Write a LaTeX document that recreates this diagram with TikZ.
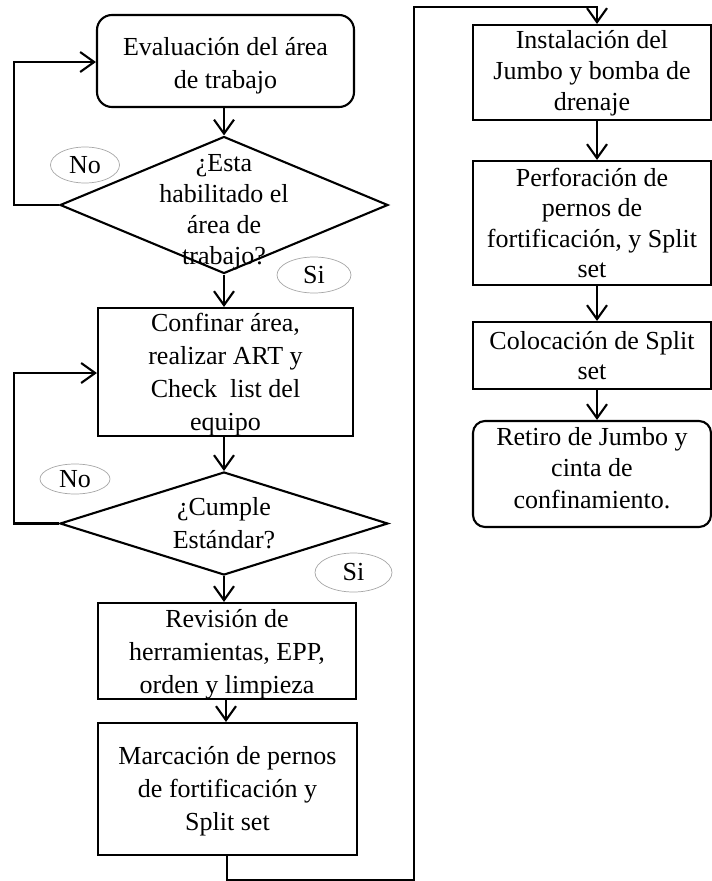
\documentclass[tikz,border=0pt]{standalone}
\usepackage{fontspec}
\setmainfont{Liberation Serif}
\usetikzlibrary{arrows.meta,shapes.geometric}
\begin{document}
\begin{tikzpicture}[x=1pt,y=-1pt,
  line width=2.1pt,
  box/.style={draw,rectangle,inner sep=0pt},
  rbox/.style={box,rounded corners=15pt},
  dia/.style={draw,diamond,inner sep=0pt},
  txt/.style={align=center,inner sep=0pt,font=\fontsize{26}{33}\selectfont},
  oval/.style={draw=gray!70,line width=0.7pt,ellipse,inner sep=0pt,font=\fontsize{26}{30}\selectfont},
  arr/.style={-{Straight Barb[length=14pt,width=20pt,line width=2.1pt]}}
]
\useasboundingbox (0,0) rectangle (712,881);
% left column
\node[rbox,minimum width=257pt,minimum height=92pt] (b1) at (225.5,61) {};
\node[txt,yshift=-5pt] (t1) at (b1) {Evaluación del área\\de trabajo};
\node[dia,minimum width=328pt,minimum height=137pt] (d1) at (224,205) {};
\node[txt,font=\fontsize{26}{31}\selectfont] (td1) at (224,212) {¿Esta\\habilitado el\\área de\\trabajo?};
\node[box,minimum width=255pt,minimum height=128pt] (b2) at (225.5,372) {};
\node[txt,yshift=-3pt] (t2) at (b2) {Confinar área,\\realizar ART y\\Check\ \ list del\\equipo};
\node[dia,minimum width=328pt,minimum height=103pt] (d2) at (224,523.5) {};
\node[txt] (td2) at (d2) {¿Cumple\\Estándar?};
\node[box,minimum width=258pt,minimum height=96pt] (b3) at (227,651) {};
\node[txt,yshift=-3pt] (t3) at (b3) {Revisión de\\herramientas, EPP,\\orden y limpieza};
\node[box,minimum width=259pt,minimum height=132pt] (b4) at (227.5,789) {};
\node[txt,yshift=-2pt] (t4) at (b4) {Marcación de pernos\\de fortificación y\\Split set};
% right column
\node[box,minimum width=238pt,minimum height=95pt] (b5) at (592,72.5) {};
\node[txt,font=\fontsize{26}{31}\selectfont,yshift=-1pt] (t5) at (b5) {Instalación del\\Jumbo y bomba de\\drenaje};
\node[box,minimum width=238pt,minimum height=124pt] (b6) at (592,223) {};
\node[txt,font=\fontsize{26}{30.5}\selectfont] (t6) at (b6) {Perforación de\\pernos de\\fortificación, y Split\\set};
\node[box,minimum width=238pt,minimum height=67pt] (b7) at (592,355.5) {};
\node[txt,font=\fontsize{26}{30.5}\selectfont] (t7) at (b7) {Colocación de Split\\set};
\node[rbox,rounded corners=12pt,minimum width=238pt,minimum height=106pt] (b8) at (592,474) {};
\node[txt,font=\fontsize{26}{31.5}\selectfont] (t8) at (592,468) {Retiro de Jumbo y\\cinta de\\confinamiento.};
% labels
\node[oval,minimum width=69pt,minimum height=36pt] (no1) at (85,165) {No};
\node[oval,minimum width=74pt,minimum height=36pt] (si1) at (314,275) {Si};
\node[oval,minimum width=70pt,minimum height=30pt] (no2) at (75,479) {No};
\node[oval,minimum width=77pt,minimum height=39pt] (si2) at (353.5,572.5) {Si};
% helper coordinates
\coordinate (lc) at (226,0);
\coordinate (rc) at (597,0);
\coordinate (p1) at (14,205);
\coordinate (p2) at (14,62);
\coordinate (p3) at (14,523.5);
\coordinate (p4) at (14,373);
\coordinate (q1) at (227,880);
\coordinate (q2) at (414,880);
\coordinate (q3) at (414,7);
\coordinate (q4) at (597,7);
% connectors
\draw[arr] (b1.south -| d1.north) -- (d1.north);
\draw[arr] (d1.south) -- (b2.north -| d1.south);
\draw[arr] (b2.south -| d2.north) -- (d2.north);
\draw[arr] (d2.south) -- (b3.north -| d2.south);
\draw[arr] (b3.south -| lc) -- (b4.north -| lc);
\draw[arr] (d1.west) -- (p1) -- (p2) -- (b1.west |- p2);
\draw[arr] (d2.west) -- (p3) -- (p4) -- (b2.west |- p4);
\draw[arr] (b4.south -| q1) -- (q1) -- (q2) -- (q3) -- (q4) -- (b5.north -| q4);
\draw[arr] (b5.south -| rc) -- (b6.north -| rc);
\draw[arr] (b6.south -| rc) -- (b7.north -| rc);
\draw[arr] (b7.south -| rc) -- (b8.north -| rc);
\end{tikzpicture}
\end{document}
